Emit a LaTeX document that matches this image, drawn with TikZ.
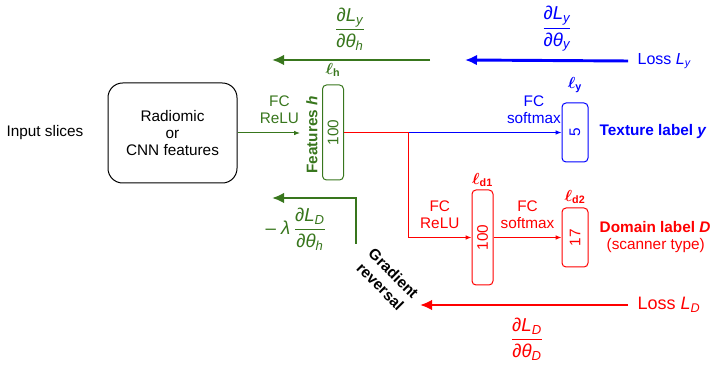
\documentclass[tikz,border=0pt]{standalone}
\usepackage{amsmath}
\usepackage{bm}
\usepackage{fontspec}
\setmainfont{Liberation Sans}
\usetikzlibrary{arrows.meta}
\definecolor{leafgreen}{HTML}{38761D}
\definecolor{pureblue}{HTML}{0000FF}
\definecolor{purered}{HTML}{FF0000}
\newcommand{\gradfrac}[2]{$\dfrac{\textit{∂L}_{\textit{#1}}}{\textit{∂θ}_{\textit{#2}}}$}
\newcommand{\layername}[1]{$\bm{\ell}_{\mathbf{#1}}$}

\begin{document}
\begin{tikzpicture}[x=0.75pt,y=0.75pt,>=Latex,
  every node/.style={font=\fontsize{11.5}{13}\selectfont},
  gradlabel/.style={font=\fontsize{14}{16}\selectfont},
  layerbox/.style={draw,rounded corners=3pt,line width=0.75pt,inner sep=0pt},
  backprop/.style={line width=2.2pt,-{Latex[length=9pt,width=8pt]}},
  forward/.style={line width=0.75pt,-{Latex[length=4.5pt,width=3.5pt]}}]
  \useasboundingbox (0,0) rectangle (712,367);
  % forward pass
  \node at (45,234) {Input slices};
  \node[draw,rounded corners=11pt,line width=0.75pt,minimum width=96.75pt,
        minimum height=75pt,align=center] (feat) at (172.5,234) {Radiomic\\or\\CNN features};
  \node[layerbox,leafgreen,minimum width=15.75pt,minimum height=71.25pt] (hbox)
      at (333,234.5) {\rotatebox{90}{100}};
  \node[rotate=90,leafgreen] (hname) at (312,232) {\bfseries Features \textit{h}};
  \node[leafgreen] at (333,297) {\layername{h}};
  \coordinate (hin) at (300,234);
  \draw[forward,leafgreen] (feat.east) -- (hin)
      node[midway,above=3pt,align=center,xshift=8pt] {FC\\ReLU};
  \node[layerbox,pureblue,minimum width=19.5pt,minimum height=44.25pt] (tbox)
      at (575,234.5) {\rotatebox{90}{5}};
  \node[pureblue] at (575,282) {\layername{y}};
  \node[pureblue,anchor=west] (tlab) at (595,235) {\bfseries Texture label \textit{y}};
  \node[layerbox,purered,minimum width=15.75pt,minimum height=71.25pt] (dbox1)
      at (482.5,129.5) {\rotatebox{90}{100}};
  \node[purered] at (482.5,187) {\layername{d1}};
  \node[layerbox,purered,minimum width=19.5pt,minimum height=44.25pt] (dbox2)
      at (575,129.5) {\rotatebox{90}{17}};
  \node[purered] at (575,170) {\layername{d2}};
  \node[purered,anchor=west] (dlab) at (595,140) {\bfseries Domain label \textit{D}};
  \node[purered,anchor=west] (dsub) at (602,121) {(scanner type)};
  \coordinate (split) at (408,234.5);
  \draw[line width=0.75pt,purered] (hbox.east) -- (split);
  \draw[forward,pureblue] (split) -- (tbox.west)
      node[pos=0.82,above=3pt,align=center] {FC\\softmax};
  \draw[forward,purered] (split) |- (dbox1.west)
      node[pos=0.75,above=3pt,align=center] {FC\\ReLU};
  \draw[forward,purered] (dbox1.east) -- (dbox2.west)
      node[midway,above=3pt,align=center] {FC\\softmax};
  % backward pass
  \node[pureblue,anchor=west,inner xsep=7pt,font=\fontsize{12}{14}\selectfont] (lossy)
      at (628,306) {Loss \textit{L}$_{\textit{y}}$};
  \coordinate (ytip) at (465,307);
  \draw[backprop,pureblue] (lossy.west) -- (ytip);
  \node[gradlabel,pureblue] at (557,338) {\gradfrac{y}{y}};
  \coordinate (hstart) at (430,307);
  \coordinate (htip) at (272,307);
  \draw[backprop,leafgreen] (hstart) -- (htip);
  \node[gradlabel,leafgreen] at (350,338) {\gradfrac{y}{h}};
  \node[purered,anchor=west,inner xsep=7pt,font=\fontsize{13.5}{15}\selectfont] (lossd)
      at (628,62) {Loss \textit{L}$_{\textit{D}}$};
  \coordinate (dtip) at (420,62);
  \draw[backprop,purered] (lossd.west) -- (dtip);
  \node[gradlabel,purered] at (527,28) {\gradfrac{D}{D}};
  \node[rotate=-45,align=center] (grev) at (387,87) {\bfseries Gradient\\[1pt]\bfseries reversal};
  \coordinate (rstart) at (356,123);
  \coordinate (rtip) at (272,169);
  \draw[backprop,leafgreen] (rstart) |- (rtip);
  \node[gradlabel,leafgreen] at (296,138) {– \textit{λ}\,\gradfrac{D}{h}};
\end{tikzpicture}
\end{document}
